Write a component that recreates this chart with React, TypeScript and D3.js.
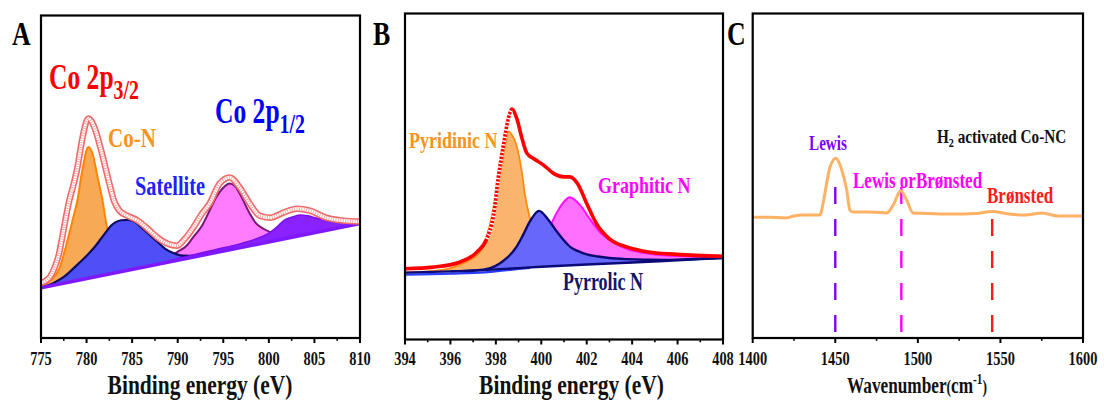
import React from "react";
import * as d3 from "d3";

// ---------- Panel A: Co 2p XPS ----------
const coTicks = [775, 780, 785, 790, 795, 800, 805, 810];
const coMinor = [777.5, 782.5, 787.5, 792.5, 797.5, 802.5, 807.5];
const coBgEnergy = [775, 810];
const coBgLevel = [15.6, 35.5];

const coNEnergy = [775, 776, 777, 778, 778.5, 779, 779.5, 780.2, 780.7, 781.2, 781.7, 782.2, 782.8, 783.5, 784.5, 786, 788];
const coNHeight = [0.3, 1.6, 4.7, 14.0, 19.3, 24.9, 33.3, 40.7, 37.9, 30.8, 24.0, 15.2, 7.8, 3.1, 0.9, 0.2, 0];

const satEnergy = [775, 776.5, 777.5, 778.3, 779.2, 780.2, 781, 782, 782.7, 783.8, 784.6, 785.3, 785.9, 786.7, 787.7, 788.6, 789.5, 790.5, 791.5, 793];
const satHeight = [0, 0.8, 1.9, 3.4, 5.3, 7.5, 9.6, 12.8, 14.9, 15.9, 15.6, 14.6, 12.8, 10.3, 7.2, 4.4, 2.5, 1.1, 0.5, 0.1];

const p12Energy = [786, 788, 789.9, 791, 791.7, 792.7, 793.5, 794.3, 795, 795.7, 796.3, 796.8, 797.9, 798.6, 799.4, 800.5, 802, 804, 806];
const p12Height = [0, 0.3, 2.5, 4.0, 6.2, 9.3, 13.4, 17.4, 19.6, 20.5, 19.3, 16.8, 10.0, 6.5, 4.4, 2.5, 1.2, 0.5, 0.2];

const p12SatEnergy = [788, 791, 794, 797, 799, 800.1, 801, 801.6, 802.5, 803.4, 804.3, 805.2, 806.2, 807.1, 808.5, 810];
const p12SatHeight = [0.2, 0.6, 0.9, 1.2, 1.9, 2.8, 4.3, 5.6, 6.2, 6.4, 5.6, 4.4, 3.2, 2.2, 1.2, 0.6];

const coRawEnergy = [775, 775.5, 776, 776.5, 777, 777.4, 778.1, 778.6, 779, 779.5, 780.2, 780.9, 781.6, 782.5, 783, 783.6, 784.5, 785.6, 786.7, 787.8, 788.9, 789.9, 790.8, 791.7, 792.6, 793.5, 794.6, 795.7, 796.8, 797.9, 799, 800.1, 801.6, 803.1, 804.5, 806.3, 808.2, 810];
const coRawCounts = [17.1, 17.7, 19.0, 21.8, 26.4, 32.3, 42.6, 47.9, 52.9, 61.3, 68.1, 65.0, 58.2, 47.9, 42.6, 39.5, 37.9, 36.4, 33.9, 31.1, 29.2, 28.6, 30.8, 34.2, 38.3, 41.7, 47.9, 49.8, 46.7, 41.7, 37.9, 37.3, 38.9, 40.1, 39.5, 37.3, 36.4, 36.1];

// ---------- Panel B: N 1s XPS ----------
const nTicks = [394, 396, 398, 400, 402, 404, 406, 408];
const nMinor = [395, 397, 399, 401, 403, 405, 407];
const nBgEnergy = [394, 396, 397, 398, 399, 400, 402, 404, 406, 408];
const nBgLevel = [20.5, 20.9, 21.1, 21.5, 21.9, 22.3, 23.0, 23.6, 24.3, 25.0];
const nBgLowEnergy = [394, 396, 397.5, 398.5, 399.5];
const nBgLowLevel = [19.9, 20.2, 20.6, 21.3, 22.0];

const pyridEnergy = [394, 395, 396, 396.7, 397.3, 397.7, 398, 398.28, 398.42, 398.55, 398.7, 398.9, 399.14, 399.28, 399.5, 399.8, 400.2, 400.6, 401.2, 402, 403, 404];
const pyridHeight = [0.1, 0.2, 1.0, 2.8, 5.7, 12.7, 22.8, 33.0, 38.5, 42.1, 41.0, 37.9, 29.6, 22.4, 15.1, 9.9, 5.2, 2.6, 1.0, 0.4, 0.1, 0];

const graphEnergy = [398.5, 399.5, 399.9, 400.2, 400.44, 400.7, 401.0, 401.25, 401.7, 402.15, 402.58, 403.17, 403.76, 404.5, 405.7, 407, 408];
const graphHeight = [0, 1.2, 3.7, 7.7, 12.9, 16.6, 19.6, 20.9, 18.4, 13.8, 9.8, 6.5, 4.3, 2.8, 1.5, 0.8, 0.5];

const pyrrEnergy = [396, 397.45, 397.75, 398.15, 398.5, 398.9, 399.2, 399.5, 399.9, 400.3, 400.7, 401.0, 401.3, 401.6, 402.0, 402.5, 403.0, 403.8, 404.5, 405.5, 406.5, 408];
const pyrrHeight = [0, 0.15, 0.46, 1.7, 3.4, 6.5, 10.1, 14.1, 17.2, 14.4, 10.4, 7.7, 5.5, 4.3, 3.1, 2.3, 1.7, 1.1, 0.7, 0.3, 0.15, 0.06];

const nEnvEnergy = [394, 395.25, 396.4, 397.16, 397.6, 397.9, 398.1, 398.33, 398.55, 398.7, 398.92, 399.15, 399.37, 399.66, 400.1, 400.55, 401.0, 401.26, 401.6, 402.0, 402.43, 403.0, 403.76, 404.5, 405.96, 408];
const nEnvCounts = [21.7, 22.2, 23.7, 26.8, 30.9, 38.1, 49.4, 59.6, 67.8, 70.7, 67.8, 61.7, 57.1, 55.5, 53.5, 50.9, 49.9, 49.9, 47.8, 41.7, 35.5, 30.9, 28.4, 27.1, 26.1, 25.5];

// ---------- Panel C: pyridine-IR ----------
const irTicks = [1400, 1450, 1500, 1550, 1600];
const irMinor = [1425, 1475, 1525, 1575];
const irWavenumber = [1400, 1410, 1420, 1425, 1430, 1438, 1440.7, 1443, 1444.8, 1446.8, 1450.4, 1453.9, 1456.9, 1458.9, 1461, 1470, 1478, 1481, 1485.1, 1489.6, 1493.2, 1497.2, 1505, 1520, 1535, 1545, 1555, 1565, 1575, 1585, 1600];
const irAbsorbance = [37.2, 37.2, 37.0, 37.6, 37.9, 37.9, 37.9, 42.5, 47.8, 52.7, 55.4, 51.8, 45.6, 39.4, 38.8, 38.8, 38.7, 38.5, 41.0, 45.4, 42.5, 38.5, 38.4, 38.2, 38.4, 39.0, 38.2, 37.9, 38.5, 37.6, 37.6];
const bandPositions = [1450, 1490, 1545];
const bandTops = [46.5, 46.5, 36.7];
const bandColors = ["#8000ff", "#ff00ff", "#ff1a1a"];

const FONT = { fontFamily: "Liberation Serif" };

type Lin = d3.ScaleLinear<number, number>;

function Frame({ x, y, major, minor }: { x: Lin; y: Lin; major: number[]; minor: number[] }) {
  const [x0, x1] = x.range();
  const [yb, yt] = y.range();
  return (
    <g>
      <rect x={x0} y={yt} width={x1 - x0} height={yb - yt} fill="none" stroke="#000" strokeWidth={2.2} />
      {major.map((t) => (
        <line key={"M" + t} x1={x(t)} x2={x(t)} y1={yb} y2={yb + 5} stroke="#000" strokeWidth={2} />
      ))}
      {minor.map((t) => (
        <line key={"m" + t} x1={x(t)} x2={x(t)} y1={yb} y2={yb + 2.8} stroke="#000" strokeWidth={1.6} />
      ))}
      {major.map((t) => (
        <text
          key={"l" + t}
          transform={`translate(${x(t)},365) scale(0.74,1)`}
          textAnchor="middle"
          fontSize={19.5}
          fontWeight="bold"
          style={FONT}
          fill="#111"
        >
          {t}
        </text>
      ))}
    </g>
  );
}

function SText({ x, y, size, sx, fill, anchor = "start", children }: any) {
  return (
    <text
      transform={`translate(${x},${y}) scale(${sx},1)`}
      fontSize={size}
      fontWeight="bold"
      style={FONT}
      fill={fill}
      textAnchor={anchor}
    >
      {children}
    </text>
  );
}

function peakArea(xs: number[], hs: number[], bg: Lin, x: Lin, y: Lin) {
  return d3
    .area<number>()
    .x((_, i) => x(xs[i]))
    .y0((_, i) => y(bg(xs[i])))
    .y1((_, i) => y(bg(xs[i]) + hs[i]))
    .curve(d3.curveMonotoneX)(xs) as string;
}

function peakLine(xs: number[], hs: number[], bg: Lin, x: Lin, y: Lin) {
  return d3
    .line<number>()
    .x((_, i) => x(xs[i]))
    .y((_, i) => y(bg(xs[i]) + hs[i]))
    .curve(d3.curveMonotoneX)(xs) as string;
}

function seriesLine(xs: number[], vs: number[], x: Lin, y: Lin) {
  return d3
    .line<number>()
    .x((_, i) => x(xs[i]))
    .y((_, i) => y(vs[i]))
    .curve(d3.curveMonotoneX)(xs) as string;
}

function PanelA() {
  const x = d3.scaleLinear().domain([775, 810]).range([41, 360]);
  const y = d3.scaleLinear().domain([0, 100]).range([338, 15.5]);
  const bg = d3.scaleLinear().domain(coBgEnergy).range(coBgLevel);
  const bgLine = seriesLine(coBgEnergy, coBgLevel, x, y);
  const raw = seriesLine(coRawEnergy, coRawCounts, x, y);
  return (
    <g>
      <path d={peakArea(coNEnergy, coNHeight, bg, x, y)} fill="#f8a955" />
      <path d={peakLine(coNEnergy, coNHeight, bg, x, y)} fill="none" stroke="#ff8400" strokeWidth={2} />
      <path d={peakArea(p12Energy, p12Height, bg, x, y)} fill="#ff7cff" />
      <path d={peakLine(p12Energy, p12Height, bg, x, y)} fill="none" stroke="#7a1478" strokeWidth={2} />
      <path d={peakArea(satEnergy, satHeight, bg, x, y)} fill="#4f4ff7" />
      <path d={peakLine(satEnergy, satHeight, bg, x, y)} fill="none" stroke="#0c0c66" strokeWidth={2.2} />
      <path d={peakArea(p12SatEnergy, p12SatHeight, bg, x, y)} fill="#8a22ff" />
      <path d={peakLine(p12SatEnergy, p12SatHeight, bg, x, y)} fill="none" stroke="#7a10f0" strokeWidth={1.6} />
      <path d={bgLine} fill="none" stroke="#7d18ff" strokeWidth={3.6} />
      {/* measured points: open squares */}
      <path d={raw} fill="none" stroke="#f06a6a" strokeWidth={6.5} />
      <path d={raw} fill="none" stroke="#ffffff" strokeWidth={3.2} />
      <path d={raw} fill="none" stroke="#f6a0a0" strokeWidth={3.2} strokeDasharray="0.9 1.5" />
      <Frame x={x} y={y} major={coTicks} minor={coMinor} />
      <SText x={12} y={45} size={34} sx={0.76} fill="#000">A</SText>
      <text transform="translate(49,89) scale(0.71,1)" fontSize={36} fontWeight="bold" style={FONT} fill="#ff0000">
        Co 2p<tspan fontSize={28} dy={10}>3/2</tspan>
      </text>
      <text transform="translate(215,123) scale(0.71,1)" fontSize={36} fontWeight="bold" style={FONT} fill="#0000ff">
        Co 2p<tspan fontSize={28} dy={10}>1/2</tspan>
      </text>
      <SText x={108} y={147} size={28} sx={0.75} fill="#f7931e">Co-N</SText>
      <SText x={135} y={195} size={27.5} sx={0.74} fill="#1f1fff">Satellite</SText>
      <SText x={200} y={394} size={26.5} sx={0.81} fill="#111" anchor="middle">Binding energy (eV)</SText>
    </g>
  );
}

function PanelB() {
  const x = d3.scaleLinear().domain([394, 408]).range([405, 723]);
  const y = d3.scaleLinear().domain([0, 100]).range([339.5, 13.5]);
  const bg = d3.scaleLinear().domain(nBgEnergy).range(nBgLevel);
  const envAll = seriesLine(nEnvEnergy, nEnvCounts, x, y);
  const idx = nEnvEnergy.map((_, i) => i);
  // the steep low-energy flank is drawn dotted
  const steep = idx.filter((i) => nEnvEnergy[i] >= 397.6 && nEnvEnergy[i] <= 398.7);
  const steepPath = d3
    .line<number>()
    .x((i) => x(nEnvEnergy[i]))
    .y((i) => y(nEnvCounts[i]))
    .curve(d3.curveMonotoneX)(steep) as string;
  return (
    <g>
      <path d={peakArea(pyridEnergy, pyridHeight, bg, x, y)} fill="#fbb46e" />
      <path d={peakLine(pyridEnergy, pyridHeight, bg, x, y)} fill="none" stroke="#ff8a10" strokeWidth={1.8} />
      <path d={peakArea(graphEnergy, graphHeight, bg, x, y)} fill="#ff70ff" />
      <path d={peakLine(graphEnergy, graphHeight, bg, x, y)} fill="none" stroke="#ff10ff" strokeWidth={2} />
      <path d={peakArea(pyrrEnergy, pyrrHeight, bg, x, y)} fill="#6767fb" />
      <path d={peakLine(pyrrEnergy, pyrrHeight, bg, x, y)} fill="none" stroke="#0a0a70" strokeWidth={2.4} />
      <path d={seriesLine(nBgLowEnergy, nBgLowLevel, x, y)} fill="none" stroke="#2a3cff" strokeWidth={2.4} />
      <path d={seriesLine(nBgEnergy, nBgLevel, x, y)} fill="none" stroke="#0a0a78" strokeWidth={2.4} />
      <path d={envAll} fill="none" stroke="#ff0000" strokeWidth={3.6} />
      <path d={steepPath} fill="none" stroke="#ffffff" strokeWidth={4} strokeDasharray="1.4 2.4" />
      <Frame x={x} y={y} major={nTicks} minor={nMinor} />
      <SText x={373} y={45} size={34} sx={0.76} fill="#000">B</SText>
      <SText x={409} y={148} size={24} sx={0.75} fill="#f7931e">Pyridinic N</SText>
      <SText x={598} y={193} size={24} sx={0.75} fill="#ff00ff">Graphitic N</SText>
      <SText x={563} y={290} size={25} sx={0.72} fill="#14146e">Pyrrolic N</SText>
      <SText x={571.5} y={394} size={26.5} sx={0.81} fill="#111" anchor="middle">Binding energy (eV)</SText>
    </g>
  );
}

function PanelC() {
  const x = d3.scaleLinear().domain([1400, 1600]).range([752.7, 1083]);
  const y = d3.scaleLinear().domain([0, 100]).range([338, 13.5]);
  return (
    <g>
      {bandPositions.map((b, i) => (
        <line
          key={b}
          x1={x(b)}
          x2={x(b)}
          y1={y(bandTops[i])}
          y2={y(0)}
          stroke={bandColors[i]}
          strokeWidth={2.4}
          strokeDasharray="17 15"
        />
      ))}
      <path d={seriesLine(irWavenumber, irAbsorbance, x, y)} fill="none" stroke="#ffb264" strokeWidth={3} />
      <Frame x={x} y={y} major={irTicks} minor={irMinor} />
      <SText x={727} y={45} size={34} sx={0.76} fill="#000">C</SText>
      <text transform="translate(937,143) scale(0.78,1)" fontSize={19.5} fontWeight="bold" style={FONT} fill="#111">
        H<tspan fontSize={13} dy={4}>2</tspan>
        <tspan dy={-4}> activated Co-NC</tspan>
      </text>
      <SText x={809} y={150} size={20} sx={0.76} fill="#8000ff">Lewis</SText>
      <SText x={853} y={188} size={24} sx={0.71} fill="#ff00ff">Lewis orBrønsted</SText>
      <SText x={987} y={203} size={23} sx={0.74} fill="#ff1a1a">Brønsted</SText>
      <text transform="translate(847,393) scale(0.75,1)" fontSize={23} fontWeight="bold" style={FONT} fill="#111">
        Wavenumber<tspan fontSize={18}>(</tspan>cm<tspan fontSize={15} dy={-9}>-1</tspan>
        <tspan fontSize={18} dy={9}>)</tspan>
      </text>
    </g>
  );
}

export default function App() {
  return (
    <svg width={1104} height={408} style={{ display: "block", position: "absolute", left: 0, top: 0 }}>
      <rect width={1104} height={408} fill="#fff" />
      <PanelA />
      <PanelB />
      <PanelC />
    </svg>
  );
}
